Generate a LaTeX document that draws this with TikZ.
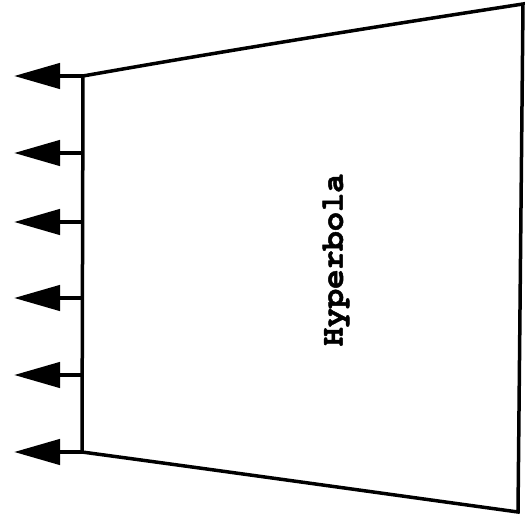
\documentclass[tikz,border=0pt]{standalone}
\usepackage{fontspec}
\newfontfamily\monob[FakeBold=1.5]{TeX Gyre Cursor}
\usetikzlibrary{arrows.meta}
\tikzset{
  edge/.style={line width=3.5pt, line join=miter},
  load/.style={line width=4.5pt, -{Triangle[length=46pt,width=25pt]}},
  lbl/.style={font=\monob\bfseries\fontsize{32}{32}\selectfont, rotate=90, inner sep=0pt}
}
\begin{document}
\begin{tikzpicture}[x=1pt,y=-1pt]
\useasboundingbox (0,0) rectangle (527,518);
\coordinate (tl) at (83,76);
\coordinate (tr) at (523,4);
\coordinate (br) at (518,512);
\coordinate (bl) at (82,452);
\draw[edge] (tl) .. controls (230,50) and (380,26) .. (tr) -- (br) .. controls (380,493) and (230,472) .. (bl) -- cycle;
\foreach \i/\y in {1/76,2/153,3/222,4/298,5/375,6/452}{
  \coordinate (s\i) at (83,\y);
  \coordinate (t\i) at (14,\y);
  \draw[load] (s\i) -- (t\i);
}
\node[lbl] (h) at (336,260) {Hyperbola};
\end{tikzpicture}
\end{document}
